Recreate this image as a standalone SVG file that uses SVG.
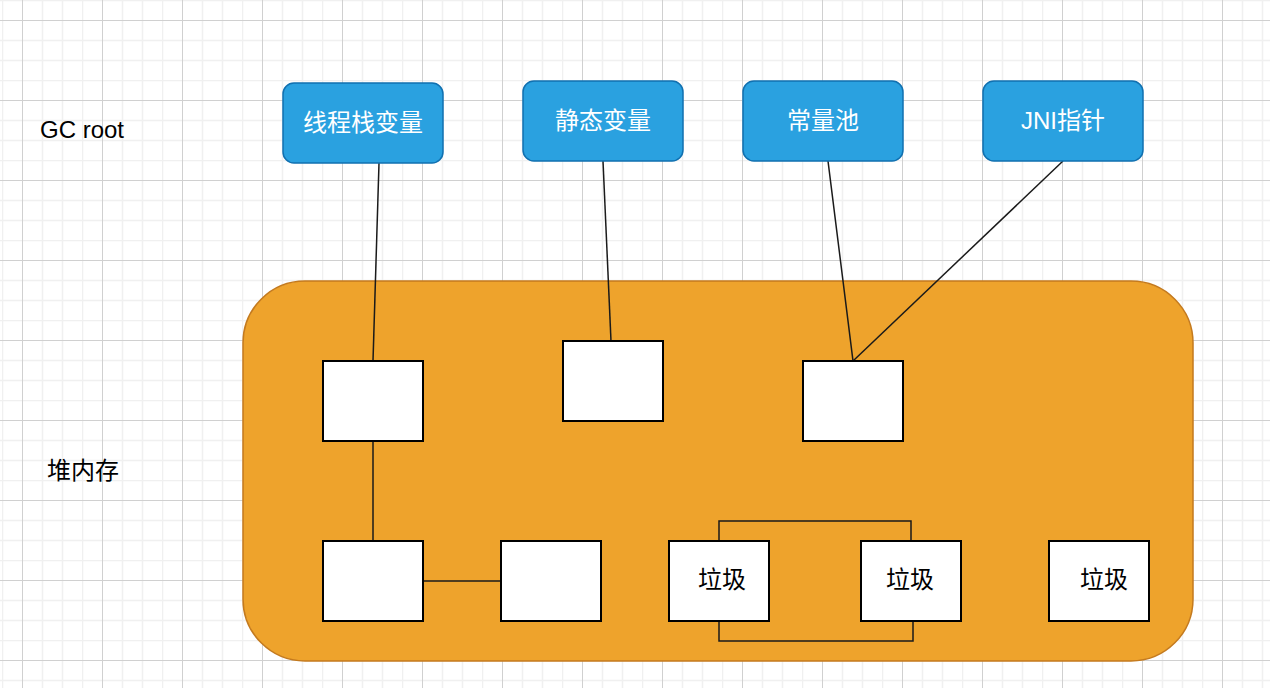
<svg xmlns="http://www.w3.org/2000/svg" width="1270" height="688" viewBox="0 0 1270 688">
<defs>
<pattern id="grid" x="2" y="0" width="80" height="80" patternUnits="userSpaceOnUse">
<path d="M0.5 0V80M40.5 0V80M60.5 0V80M0 0.5H80M0 40.5H80M0 60.5H80" stroke="#f0f0f0" stroke-width="1.5" fill="none"/>
<path d="M20.5 0V80M0 20.5H80" stroke="#d0d0d0" stroke-width="1" fill="none"/>
</pattern>
<style>
.root rect{fill:#2AA1E0;stroke:#1070B0;stroke-width:1.5}
.root text{fill:#ffffff;font-family:"Liberation Sans","Noto Sans CJK SC",sans-serif;font-size:24px;text-anchor:middle;dominant-baseline:central}
.obj rect{fill:#ffffff;stroke:#000000;stroke-width:2}
.obj text{fill:#000000;font-family:"Liberation Sans","Noto Sans CJK SC",sans-serif;font-size:24px;text-anchor:middle;dominant-baseline:central}
.lbl{fill:#000000;font-family:"Liberation Sans","Noto Sans CJK SC",sans-serif;font-size:24px}
.edges path{fill:none;stroke:#1a1a1a;stroke-width:1.5}
</style>
</defs>
<rect width="1270" height="688" fill="#ffffff"/>
<rect width="1270" height="688" fill="url(#grid)"/>

<g id="label-gcroot"><text class="lbl" x="40" y="138">GC root</text></g>
<g id="label-heap"><text class="lbl" x="47" y="479">堆内存</text></g>

<g id="heap"><rect x="243" y="281" width="950" height="380" rx="62" ry="62" fill="#EEA32C" stroke="#C47A1E" stroke-width="1.5"/></g>

<g class="edges" id="connectors">
<path d="M379 163L373 361"/>
<path d="M603 161L611 341"/>
<path d="M828 161L853 361"/>
<path d="M1063 161L853 361"/>
<path d="M373 441V541"/>
<path d="M423 581H501"/>
<path d="M719 541V521H911V541"/>
<path d="M719 621V641H913V621"/>
</g>

<g class="root" id="n-thread"><rect x="283" y="83" width="160" height="80" rx="11"/><text x="363" y="122">线程栈变量</text></g>
<g class="root" id="n-static"><rect x="523" y="81" width="160" height="80" rx="11"/><text x="603" y="120">静态变量</text></g>
<g class="root" id="n-const"><rect x="743" y="81" width="160" height="80" rx="11"/><text x="823" y="120">常量池</text></g>
<g class="root" id="n-jni"><rect x="983" y="81" width="160" height="80" rx="11"/><text x="1063" y="120">JNI指针</text></g>

<g class="obj" id="o1"><rect x="323" y="361" width="100" height="80"/></g>
<g class="obj" id="o2"><rect x="563" y="341" width="100" height="80"/></g>
<g class="obj" id="o3"><rect x="803" y="361" width="100" height="80"/></g>
<g class="obj" id="o4"><rect x="323" y="541" width="100" height="80"/></g>
<g class="obj" id="o5"><rect x="501" y="541" width="100" height="80"/></g>
<g class="obj" id="g1"><rect x="669" y="541" width="100" height="80"/><text x="722" y="579">垃圾</text></g>
<g class="obj" id="g2"><rect x="861" y="541" width="100" height="80"/><text x="910" y="579">垃圾</text></g>
<g class="obj" id="g3"><rect x="1049" y="541" width="100" height="80"/><text x="1104" y="579">垃圾</text></g>
</svg>
